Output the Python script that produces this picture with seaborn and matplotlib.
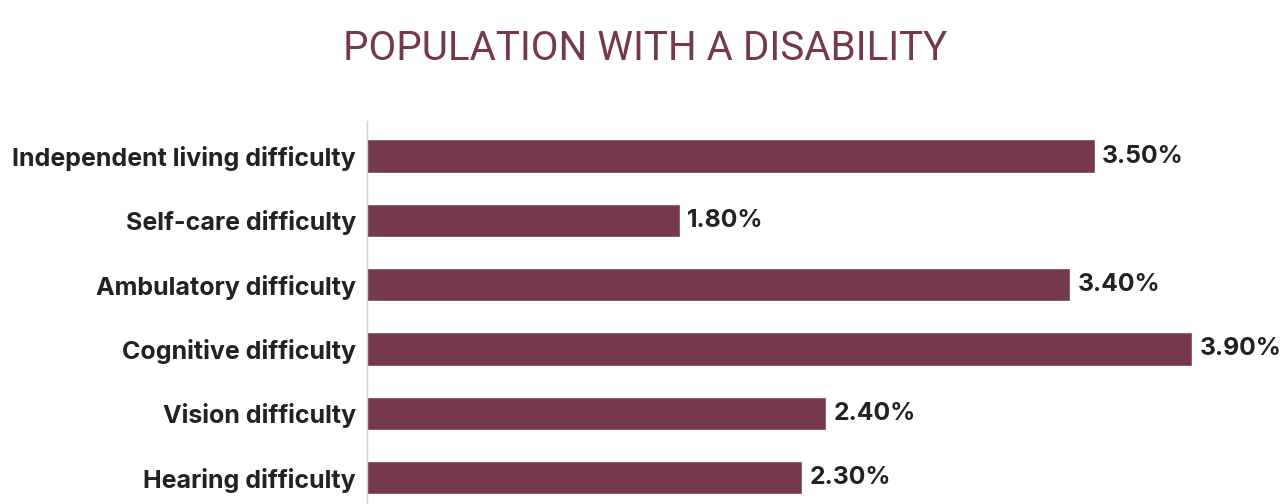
import matplotlib
matplotlib.use("Agg")
import matplotlib.pyplot as plt
import seaborn as sns
import pandas as pd

categorias = ["Independent living difficulty", "Self-care difficulty", "Ambulatory difficulty",
              "Cognitive difficulty", "Vision difficulty", "Hearing difficulty"]
valores = [3.50, 1.80, 3.40, 3.90, 2.40, 2.30]
etiquetas = ["3.50%", "1.80%", "3.40%", "3.90%", "2.40%", "2.30%"]

df = pd.DataFrame({"categoria": categorias, "valor": valores})

sns.set_theme(style="white")
plt.rcParams["font.family"] = ["Inter", "DejaVu Sans"]

color_barra = "#74394b"

fig = plt.figure(figsize=(12.83, 5.04), dpi=100)
ax = fig.add_axes([367 / 1283, 0, 916 / 1283, 1 - 121 / 504])

sns.barplot(data=df, x="valor", y="categoria", color=color_barra, width=0.52,
            saturation=1, ax=ax)

for i, (v, t) in enumerate(zip(valores, etiquetas)):
    ax.text(v + 0.03, i, t, va="center", ha="left", fontsize=17.8, fontweight="bold",
            color="#222222", clip_on=False)

ax.set_xlim(0.516, 4.273)
ax.set_ylim(5.41, -0.545)
ax.set_xlabel("")
ax.set_ylabel("")
ax.set_xticks([])
ax.tick_params(axis="y", length=0, pad=8)
for lbl in ax.get_yticklabels():
    lbl.set_fontweight("bold")
    lbl.set_fontsize(18)
    lbl.set_color("#222222")

for s in ["top", "right", "bottom"]:
    ax.spines[s].set_visible(False)
ax.spines["left"].set_color("#d0d4d4")
ax.spines["left"].set_linewidth(1)

# titulo: fuente estrecha si existe
fig.text(0.503, 1 - 60 / 504, "POPULATION WITH A DISABILITY", ha="center", va="baseline",
         fontsize=29, color=color_barra, fontstretch="condensed",
         family=["Roboto", "DejaVu Sans"])

plt.savefig("out.png", dpi=100)
